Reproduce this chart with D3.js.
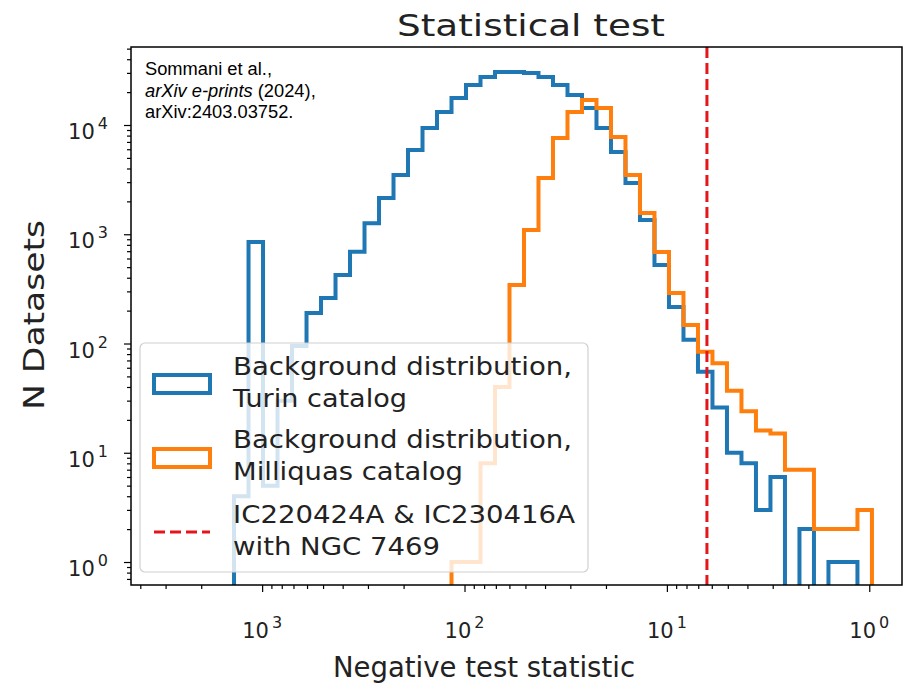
<!DOCTYPE html>
<html><head><meta charset="utf-8">
<script src="https://cdn.jsdelivr.net/npm/d3@7"></script>
<style>body{margin:0;background:#fff}</style>
</head><body><svg id="c" width="904" height="686"></svg>
<script>
// Log-spaced histogram bins (log10 of negative test statistic)
const logBinStart = -0.0133, logBinStep = 0.07164;
// counts per bin, bin 0 = smallest negative TS
const turinCounts = [0,1,1,0,2,0,6,3,8,10,26,55,108,216,523,1350,2940,5660,9390,14300,18800,23200,27500,29900,30600,30600,27500,23200,17660,13150,9390,5900,3490,2150,1260,692,424,261,190,95,30,5,850,4];
const milliquasCounts = [3,2,2,2,7,7,15,16,24,37,66,84,148,290,688,1566,3486,7770,14300,16940,13150,7600,3270,1094,343,40,8,1,1];
const observedTS = 6.34;
const xMajorTicks = [1000,100,10,1];
const xMajorExp = ["3","2","1","0"];
const yMajorTicks = [1,10,100,1000,10000];
const yMajorExp = ["0","1","2","3","4"];
const seriesNames = [["Background distribution,","Turin catalog"],["Background distribution,","Milliquas catalog"],["IC220424A & IC230416A","with NGC 7469"]];
const seriesColors = ["#1f77b4","#ff7f0e","#e3161c"];
const titleText = "Statistical test";
const xLabel = "Negative test statistic";
const yLabel = "N Datasets";
const citation = ["Sommani et al.,", "arXiv e-prints", " (2024),", "arXiv:2403.03752."];

const L = 131, R = 902, T = 47, B = 585;
const svg = d3.select("#c");
const x = d3.scaleLog().domain([4446, 0.689]).range([L, R]);
const y = d3.scaleLog().domain([0.616, 51760]).range([B, T]);
const FONT = "DejaVu Sans, sans-serif";

svg.append("defs").append("clipPath").attr("id","clip").append("rect")
  .attr("x",L).attr("y",T).attr("width",R-L).attr("height",B-T);

function edge(k){ return Math.pow(10, logBinStart + k*logBinStep); }
function stepPath(counts){
  const pts = [];
  const low = B + 20;
  pts.push([x(edge(0)), low]);
  counts.forEach((c,k)=>{
    const yy = c>0 ? y(c) : low;
    pts.push([x(edge(k)), yy]);
    pts.push([x(edge(k+1)), yy]);
  });
  pts.push([x(edge(counts.length)), low]);
  return d3.line()(pts);
}
const g = svg.append("g").attr("clip-path","url(#clip)");
g.append("path").attr("d", stepPath(turinCounts)).attr("fill","none")
  .attr("stroke",seriesColors[0]).attr("stroke-width",4).attr("stroke-linejoin","miter");
g.append("path").attr("d", stepPath(milliquasCounts)).attr("fill","none")
  .attr("stroke",seriesColors[1]).attr("stroke-width",4).attr("stroke-linejoin","miter");
g.append("line").attr("x1",x(observedTS)).attr("x2",x(observedTS)).attr("y1",T).attr("y2",B)
  .attr("stroke",seriesColors[2]).attr("stroke-width",3).attr("stroke-dasharray","11,5");

// axes
const xAxis = d3.axisBottom(x).tickValues(d3.range(1,10).flatMap(m=>[1,10,100,1000].map(d=>d*m)).filter(v=>v>=0.689&&v<=4446))
  .tickFormat("").tickSizeOuter(0);
const xg = svg.append("g").attr("transform",`translate(0,${B})`).call(xAxis);
xg.selectAll(".tick line").attr("y2", d=> xMajorTicks.includes(d)?7:4).attr("stroke","#000").attr("stroke-width",1.2);
xg.select(".domain").remove();
const yAxis = d3.axisLeft(y).tickValues(d3.range(1,10).flatMap(m=>[0.1,1,10,100,1000,10000].map(d=>d*m)).filter(v=>v>=0.616&&v<=51760))
  .tickFormat("").tickSizeOuter(0);
const yg = svg.append("g").attr("transform",`translate(${L},0)`).call(yAxis);
yg.selectAll(".tick line").attr("x2", d=> yMajorTicks.some(t=>Math.abs(t-d)/t<1e-6)?-7:-4).attr("stroke","#000").attr("stroke-width",1.2);
yg.select(".domain").remove();

svg.append("rect").attr("x",L).attr("y",T).attr("width",R-L).attr("height",B-T)
  .attr("fill","none").attr("stroke","#000").attr("stroke-width",1.5);

// tick labels
function powLabel(px, py, exp, anchor){
  const t = svg.append("text").attr("x",px).attr("y",py).attr("text-anchor",anchor)
    .attr("font-family",FONT).attr("font-size",21).attr("fill","#222");
  t.append("tspan").text("10");
  t.append("tspan").attr("dx",3).attr("dy",-10).attr("font-size",16).text(exp);
  return t;
}
xMajorTicks.forEach((v,i)=>{ powLabel(x(v), 638, xMajorExp[i], "middle"); });
yMajorTicks.forEach((v,i)=>{ powLabel(108, y(v)+14, yMajorExp[i], "end"); });

// title & labels
svg.append("text").attr("x",531).attr("y",36).attr("text-anchor","middle").attr("font-family",FONT)
  .attr("font-size",31).attr("fill","#222").attr("textLength",268).attr("lengthAdjust","spacingAndGlyphs").text(titleText);
svg.append("text").attr("x",484).attr("y",677).attr("text-anchor","middle").attr("font-family",FONT)
  .attr("font-size",28).attr("fill","#222").attr("textLength",302).attr("lengthAdjust","spacingAndGlyphs").text(xLabel);
svg.append("text").attr("transform","translate(44,315) rotate(-90)").attr("text-anchor","middle").attr("font-family",FONT)
  .attr("font-size",28).attr("fill","#222").attr("textLength",190).attr("lengthAdjust","spacingAndGlyphs").text(yLabel);

// citation
const ct = svg.append("g").attr("font-family","Liberation Sans, Arial, sans-serif").attr("font-size",18.3).attr("fill","#000");
ct.append("text").attr("x",145).attr("y",75).text(citation[0]);
const c2 = ct.append("text").attr("x",145).attr("y",96.5);
c2.append("tspan").attr("font-style","italic").text(citation[1]);
c2.append("tspan").text(citation[2]);
ct.append("text").attr("x",145).attr("y",118).text(citation[3]);

// legend
const lg = svg.append("g");
lg.append("rect").attr("x",140).attr("y",343).attr("width",448).attr("height",229).attr("rx",5)
  .attr("fill","#fff").attr("fill-opacity",0.8).attr("stroke","#d0d0d0").attr("stroke-width",1.2);
lg.append("rect").attr("x",154).attr("y",375).attr("width",56).attr("height",18).attr("fill","none")
  .attr("stroke",seriesColors[0]).attr("stroke-width",4);
lg.append("rect").attr("x",154).attr("y",449).attr("width",56).attr("height",18).attr("fill","none")
  .attr("stroke",seriesColors[1]).attr("stroke-width",4);
lg.append("line").attr("x1",154).attr("x2",210).attr("y1",532).attr("y2",532)
  .attr("stroke",seriesColors[2]).attr("stroke-width",3).attr("stroke-dasharray","11,5");
const legendLines = [[375,407],[448,480],[523,555]];
const legendWidths = [[339,174],[339,230],[342,207]];
seriesNames.forEach((lines,i)=>{
  lines.forEach((s,j)=>{
    lg.append("text").attr("x",233).attr("y",legendLines[i][j]).attr("font-family",FONT).attr("font-size",25)
      .attr("fill","#222").attr("textLength",legendWidths[i][j]).attr("lengthAdjust","spacingAndGlyphs").text(s);
  });
});
</script></body></html>
